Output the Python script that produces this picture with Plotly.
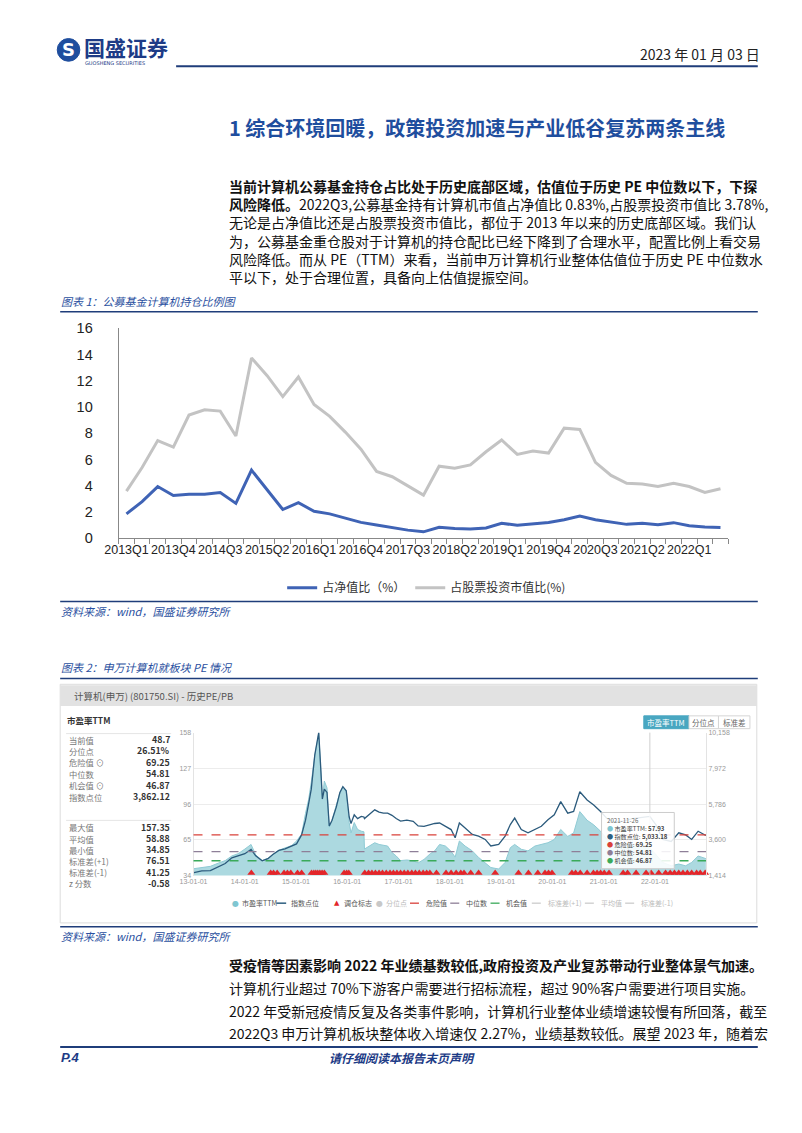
import plotly.graph_objects as go

# ---------------- data: chart 1 ----------------
quarters = [f"{y}Q{q}" for y in range(2013, 2023) for q in range(1, 5)][:39]
net_value_ratio = [1.87, 2.8, 3.95, 3.27, 3.37, 3.37, 3.5, 2.67, 5.2, 3.7,
                   2.2, 2.72, 2.07, 1.87, 1.55, 1.22, 1.02, 0.83, 0.63, 0.5,
                   0.85, 0.75, 0.72, 0.8, 1.15, 1.0, 1.12, 1.22, 1.42, 1.7,
                   1.42, 1.27, 1.07, 1.15, 1.05, 1.2, 0.97, 0.87, 0.83]
stock_value_ratio = [3.6, 5.4, 7.45, 6.95, 9.4, 9.8, 9.7, 7.8, 13.75, 12.4,
                     10.8, 12.3, 10.2, 9.3, 8.1, 6.8, 5.1, 4.7, 4.0, 3.3,
                     5.5, 5.35, 5.6, 6.6, 7.5, 6.4, 6.65, 6.5, 8.4, 8.3,
                     5.8, 4.8, 4.2, 4.15, 3.95, 4.2, 3.95, 3.5, 3.78]
series1_names = ["占净值比（%）", "占股票投资市值比(%)"]

# ---------------- data: chart 2 ----------------
pe_dates = ["2013-01-04", "2013-03-01", "2013-05-01", "2013-07-01", "2013-08-15", "2013-10-01",
            "2013-11-15", "2014-01-02", "2014-02-15", "2014-03-20", "2014-05-05", "2014-06-15",
            "2014-07-20", "2014-09-01", "2014-10-15", "2014-12-01", "2015-01-05", "2015-02-10",
            "2015-03-10", "2015-04-01", "2015-04-20", "2015-05-15", "2015-06-12", "2015-06-25",
            "2015-07-08", "2015-07-22", "2015-08-10", "2015-08-26", "2015-09-15", "2015-10-15",
            "2015-11-10", "2015-12-01", "2015-12-25", "2016-01-15", "2016-01-28", "2016-02-20",
            "2016-03-15", "2016-04-10", "2016-04-29", "2016-05-03", "2016-06-15", "2016-07-15",
            "2016-08-15", "2016-09-15", "2016-10-15", "2016-11-15", "2016-12-15", "2017-01-15",
            "2017-03-01", "2017-04-15", "2017-05-20", "2017-07-01", "2017-08-15", "2017-09-15",
            "2017-10-20", "2017-12-01", "2018-01-10", "2018-02-08", "2018-03-10", "2018-04-20",
            "2018-06-10", "2018-07-25", "2018-09-10", "2018-10-20", "2018-12-15", "2019-01-30",
            "2019-03-08", "2019-04-08", "2019-05-25", "2019-07-12", "2019-08-30", "2019-10-15",
            "2019-12-01", "2020-01-15", "2020-03-01", "2020-04-20", "2020-06-01", "2020-07-15",
            "2020-09-05", "2020-10-22", "2020-12-10", "2021-01-25", "2021-03-10", "2021-05-20",
            "2021-07-25", "2021-09-15", "2021-11-26", "2022-01-10", "2022-02-25", "2022-04-27",
            "2022-06-20", "2022-08-08", "2022-09-20", "2022-11-05", "2022-12-30"]
pe_ttm = [40, 41, 42, 45, 47, 51, 53, 57, 61, 52, 47, 49, 52.5, 56, 58, 60, 64, 70,
          88, 100, 115, 138, 157.35, 128, 100, 116, 110, 76, 82, 95, 106, 111, 108, 80, 71, 80,
          74, 72.5, 72, 57, 60, 62.5, 61, 60, 59.6, 54, 51, 47,
          47.5, 46.8, 45, 48, 53, 55.4, 61, 59.6, 55, 50, 64, 59.6,
          55.4, 49.7, 45.4, 41, 39.7, 45.4, 58.2, 61, 56.8, 55.4, 59.6, 61,
          62.5, 65.3, 74, 68, 71, 89.5, 82, 78, 72.5, 65.3, 62.5, 59.6,
          61, 59, 57.93, 52, 45.4, 42.5, 44, 42.5, 45.4, 51, 48.7]
index_pts = [1600, 1700, 1720, 1950, 2150, 2500, 2600, 2750, 3020, 2620, 2320, 2450,
             2700, 2950, 3050, 3200, 3350, 3900, 4800, 5800, 6700, 8800, 10158, 8200,
             6100, 6700, 6500, 4450, 4800, 5600, 6500, 6850, 6600, 5000, 4600, 5130,
             4900, 5030, 5000, 4900, 5200, 5434, 5300, 5233, 5233, 5100, 4900, 4750,
             4800, 4730, 4450, 4429, 4530, 4600, 4630, 4429, 4228, 3726, 4630, 4328,
             3927, 3826, 3625, 3223, 3324, 3826, 4532, 4932, 4228, 4027, 4228, 4429,
             4830, 5130, 5937, 5233, 5334, 6540, 6037, 5736, 5334, 4900, 4700, 4750,
             4900, 4950, 5033.18, 4500, 3625, 3500, 4027, 3900, 3625, 4127, 3862.12]
rebalance_dates = ["2014-02-17", "2014-07-05", "2014-07-25", "2014-08-20", "2014-10-08", "2014-11-01",
                   "2014-11-25", "2015-01-12", "2015-02-10", "2015-04-22", "2015-05-08", "2015-05-22",
                   "2015-06-05", "2015-06-20", "2015-07-06", "2015-07-22", "2015-12-10", "2015-12-28",
                   "2016-01-12", "2016-05-05", "2016-06-01", "2016-06-25", "2016-07-20", "2016-08-15",
                   "2016-09-08", "2016-10-05", "2016-11-01", "2016-11-25", "2016-12-20", "2017-01-15",
                   "2017-02-10", "2017-03-08", "2017-04-05", "2017-05-01", "2017-05-28", "2017-06-25",
                   "2017-07-20", "2017-08-12", "2017-09-28", "2017-12-05", "2018-01-10", "2018-02-15",
                   "2018-03-20", "2018-04-12", "2018-05-30", "2018-07-25", "2018-11-20", "2019-05-05",
                   "2019-07-15", "2019-09-20", "2019-11-10", "2019-12-05", "2019-12-30", "2020-05-20",
                   "2020-06-15", "2020-07-18", "2020-09-05", "2020-10-20", "2020-11-15", "2020-12-10",
                   "2021-01-05", "2021-02-08", "2021-05-20", "2021-06-20", "2021-08-20", "2021-10-30",
                   "2021-12-05", "2022-01-28", "2022-03-18", "2022-04-20", "2022-05-20", "2022-06-20",
                   "2022-07-20", "2022-08-20", "2022-09-20", "2022-10-25", "2022-11-20", "2022-12-25"]
danger_value = 69.25
median_value = 54.81
chance_value = 46.87
pe_ticks = [34, 65, 96, 127, 158]
idx_ticks = [1414, 3600, 5786, 7972, 10158]
idx_ticktext = ["1,414", "3,600", "5,786", "7,972", "10,158"]
year_ticks = [f"{y}-01-01" for y in range(2013, 2023)]
stat_labels_a = ["当前值", "分位点", "危险值 ⊙", "中位数", "机会值 ⊙", "指数点位"]
stat_values_a = ["48.7", "26.51%", "69.25", "54.81", "46.87", "3,862.12"]
stat_labels_b = ["最大值", "平均值", "最小值", "标准差(+1)", "标准差(-1)", "z 分数"]
stat_values_b = ["157.35", "58.88", "34.85", "76.51", "41.25", "-0.58"]
tooltip_date = "2021-11-26"
tooltip_rows = [("#7fc6d1", "市盈率TTM", "57.93"), ("#2d5f80", "指数点位", "5,033.18"),
                ("#d9413a", "危险值", "69.25"), ("#8e7f98", "中位数", "54.81"),
                ("#3aaa5a", "机会值", "46.87")]

# ---------------- helpers ----------------
W, H = 802, 1133
def px(x): return x / W
def py(y): return 1 - y / H

CJK = "Noto Sans CJK SC"
NAVY = "#1F3D7A"
BLUE_T = "#2a4fa0"

fig = go.Figure()

# chart 1 traces
fig.add_trace(go.Scatter(x=list(range(39)), y=net_value_ratio, mode="lines", name=series1_names[0],
                         line=dict(color="#3F63B5", width=3), xaxis="x", yaxis="y"))
fig.add_trace(go.Scatter(x=list(range(39)), y=stock_value_ratio, mode="lines", name=series1_names[1],
                         line=dict(color="#C3C3C3", width=3), xaxis="x", yaxis="y"))

# chart 2 traces
fig.add_trace(go.Scatter(x=pe_dates, y=pe_ttm, mode="lines", fill="tozeroy", showlegend=False,
                         line=dict(color="#8fcad4", width=1), fillcolor="#acd9e0",
                         xaxis="x2", yaxis="y2"))
fig.add_trace(go.Scatter(x=pe_dates, y=index_pts, mode="lines", showlegend=False,
                         line=dict(color="#2b5a7c", width=1.3), xaxis="x2", yaxis="y3"))
TRI_Y = 36.2
fig.add_trace(go.Scatter(x=rebalance_dates, y=[TRI_Y] * len(rebalance_dates), mode="markers",
                         showlegend=False, marker=dict(symbol="triangle-up", size=7, color="#e3262a"),
                         cliponaxis=False, xaxis="x2", yaxis="y2"))

shapes = []
annotations = []

def text(x, y, s, size=12, color="#222", xanchor="left", yanchor="middle", family=CJK, **kw):
    annotations.append(dict(x=px(x), y=py(y), xref="paper", yref="paper", text=s, showarrow=False,
                            xanchor=xanchor, yanchor=yanchor, borderpad=0,
                            font=dict(size=size, color=color, family=family), **kw))

def hline(x0, x1, y, color=NAVY, width=1.5, dash=None):
    shapes.append(dict(type="line", xref="paper", yref="paper", x0=px(x0), x1=px(x1), y0=py(y), y1=py(y),
                       line=dict(color=color, width=width, dash=dash)))

def rect(x0, y0, x1, y1, fill, line="rgba(0,0,0,0)", lw=1):
    shapes.append(dict(type="rect", xref="paper", yref="paper", x0=px(x0), x1=px(x1), y0=py(y1), y1=py(y0),
                       fillcolor=fill, line=dict(color=line, width=lw), layer="below"))

# ---------- header ----------
shapes.append(dict(type="circle", xref="paper", yref="paper", x0=px(44), x1=px(67), y0=py(54), y1=py(31),
                   fillcolor="#1F4E9E", line=dict(color="#1F4E9E", width=1)))
text(55.5, 42.5, "<b>S</b>", size=18, color="white", xanchor="center", family="DejaVu Sans")
text(70, 40, "<b>国盛证券</b>", size=21, color="#1d3b86")
text(71, 56, "GUOSHENG SECURITIES", size=5, color="#1d3b86", family="DejaVu Sans")
text(760, 47, "2023 年 01 月 03 日", size=14, color="#222", xanchor="right")
hline(165, 757, 59, width=2)

text(218, 121, "<b>1 综合环境回暖，政策投资加速与产业低谷复苏两条主线</b>", size=20, color="#1F4E9E")

para1 = ["<b>当前计算机公募基金持仓占比处于历史底部区域，估值位于历史 PE 中位数以下，下探</b>",
         "<b>风险降低。</b>2022Q3,公募基金持有计算机市值占净值比 0.83%,占股票投资市值比 3.78%,",
         "无论是占净值比还是占股票投资市值比，都位于 2013 年以来的历史底部区域。我们认",
         "为，公募基金重仓股对于计算机的持仓配比已经下降到了合理水平，配置比例上看交易",
         "风险降低。而从 PE（TTM）来看，当前申万计算机行业整体估值位于历史 PE 中位数水",
         "平以下，处于合理位置，具备向上估值提振空间。"]
text(218, 169, "<br>".join(para1), size=14.0, color="#111", yanchor="top", align="left")

# ---------- chart 1 frame ----------
text(47, 297, "<i>图表 1：公募基金计算机持仓比例图</i>", size=11, color=BLUE_T)
hline(47, 757, 308)
hline(47, 757, 602)
text(47, 612, "<i>资料来源：wind，国盛证券研究所</i>", size=11, color=BLUE_T)

# ---------- chart 2 frame ----------
text(47, 668, "<i>图表 2：申万计算机就板块 PE 情况</i>", size=11, color=BLUE_T)
hline(47, 757, 680)
rect(47, 686, 756, 928, "white", "#dcdcdc")
rect(47, 687, 756, 708, "#e2e2e2")
text(60, 698, "计算机(申万) (801750.SI) - 历史PE/PB", size=9.5, color="#555")
text(53, 722, "<b>市盈率TTM</b>", size=8.5, color="#333")
hline(53, 160, 736, color="#e5e5e5", width=1)
for i, (lab, val) in enumerate(zip(stat_labels_a, stat_values_a)):
    yy = 742 + i * 11.6
    text(55, yy, lab, size=8.3, color="#777")
    text(160, yy, f"<b>{val}</b>", size=8.8, color="#333", xanchor="right")
hline(53, 160, 824, color="#e5e5e5", width=1)
for i, (lab, val) in enumerate(zip(stat_labels_b, stat_values_b)):
    yy = 831 + i * 11.4
    text(55, yy, lab, size=8.3, color="#777")
    text(160, yy, f"<b>{val}</b>", size=8.8, color="#333", xanchor="right")

# buttons
rect(641, 718, 687, 731, "#49a7c1", "#49a7c1")
rect(687, 718, 717, 731, "white", "#d5d5d5")
rect(717, 718, 749, 731, "white", "#d5d5d5")
text(664, 724.5, "市盈率TTM", size=7.5, color="white", xanchor="center")
text(702, 724.5, "分位点", size=7.5, color="#666", xanchor="center")
text(733, 724.5, "标准差", size=7.5, color="#666", xanchor="center")

# reference lines on chart 2
for val, col in [(danger_value, "#d9413a"), (median_value, "#8e7f98"), (chance_value, "#3aaa5a")]:
    shapes.append(dict(type="line", xref="x2 domain", yref="y2", x0=0, x1=1, y0=val, y1=val,
                       line=dict(color=col, width=1.3, dash="dash")))
# crosshair
shapes.append(dict(type="line", xref="x2", yref="y2 domain", x0=tooltip_date, x1=tooltip_date, y0=0, y1=1,
                   line=dict(color="#cfcfcf", width=1)))
# tooltip
shapes.append(dict(type="rect", xref="paper", yref="paper", x0=px(598), x1=px(672), y0=py(873), y1=py(816),
                   fillcolor="rgba(255,255,255,0.88)", line=dict(color="#cccccc", width=1), layer="above"))
tip_lines = [f"<span style='color:#666'>{tooltip_date}</span>"]
for col, lab, val in tooltip_rows:
    tip_lines.append(f"<span style='color:{col}'>●</span> {lab}: <b>{val}</b>")
text(603, 819, "<br>".join(tip_lines), size=6.1, color="#444", yanchor="top", align="left")

# chart 2 legend
leg_y = 908
legend2 = [("dot", "#7fc6d1", "市盈率TTM", "#555", 225),
           ("line", "#2d5f80", "指数点位", "#555", 272),
           ("tri", "#e3262a", "调仓标志", "#555", 329),
           ("dot", "#c8c8c8", "分位点", "#bbb", 372),
           ("dash", "#d9413a", "危险值", "#555", 408),
           ("dash", "#8e7f98", "中位数", "#555", 449),
           ("dash", "#3aaa5a", "机会值", "#555", 490),
           ("dash", "#cccccc", "标准差(+1)", "#bbb", 532),
           ("dash", "#cccccc", "平均值", "#bbb", 586),
           ("dash", "#cccccc", "标准差(-1)", "#bbb", 627)]
for kind, col, lab, tcol, x0 in legend2:
    if kind == "dot":
        text(x0, leg_y, "●", size=8, color=col, xanchor="center", family="DejaVu Sans")
        tx = x0 + 6
    elif kind == "tri":
        text(x0, leg_y, "▲", size=7, color=col, xanchor="center", family="DejaVu Sans")
        tx = x0 + 6
    elif kind == "line":
        hline(x0 - 5, x0 + 5, leg_y, color=col, width=1.5)
        tx = x0 + 9
    else:
        hline(x0 - 5, x0 + 6, leg_y, color=col, width=1.3, dash="dash")
        tx = x0 + 10
    text(tx, leg_y, lab, size=7, color=tcol)

hline(47, 757, 932)
text(47, 941, "<i>资料来源：wind，国盛证券研究所</i>", size=11, color=BLUE_T)

para2 = ["<b>受疫情等因素影响 2022 年业绩基数较低,政府投资及产业复苏带动行业整体景气加速。</b>",
         "计算机行业超过 70%下游客户需要进行招标流程，超过 90%客户需要进行项目实施。",
         "2022 年受新冠疫情反复及各类事件影响，计算机行业整体业绩增速较慢有所回落，截至",
         "2022Q3 申万计算机板块整体收入增速仅 2.27%，业绩基数较低。展望 2023 年，随着宏"]
for i, s in enumerate(para2):
    text(218, 971 + i * 23, s, size=14, color="#111")

# footer
hline(47, 757, 1054, width=2)
text(47, 1065, "<b><i>P.4</i></b>", size=13, color="#1d3b86", family="Liberation Sans")
text(395, 1065, "<b><i>请仔细阅读本报告末页声明</i></b>", size=12, color="#1d3b86", xanchor="center")

fig.update_layout(
    width=W, height=H, margin=dict(l=0, r=0, t=0, b=0),
    paper_bgcolor="white", plot_bgcolor="white",
    shapes=shapes, annotations=annotations,
    showlegend=True,
    legend=dict(orientation="h", x=px(420), y=py(588), xanchor="center", yanchor="middle",
                font=dict(size=12, color="#333", family=CJK), itemwidth=30, bgcolor="rgba(0,0,0,0)"),
    xaxis=dict(domain=[px(106.5), px(727)], anchor="y", range=[-0.5, 38.5],
               tickvals=list(range(0, 39, 3)), ticktext=[quarters[i] for i in range(0, 39, 3)],
               tickangle=0, ticks="", showgrid=False, zeroline=False, showline=True, linecolor="#888",
               linewidth=1, tickfont=dict(size=12.5, color="#222", family="Liberation Sans"),
               minor=dict(tick0=-0.5, dtick=1, ticks="outside", ticklen=5, tickcolor="#888", showgrid=False)),
    yaxis=dict(domain=[py(538), py(325)], anchor="x", range=[0, 16], dtick=2, showgrid=False,
               zeroline=False, showline=True, linecolor="#888", linewidth=1, ticks="",
               ticklabelstandoff=22,
               tickfont=dict(size=14.5, color="#222", family="Liberation Sans")),
    xaxis2=dict(domain=[px(182.7), px(704.3)], anchor="y2", type="date",
                range=["2013-01-01", "2022-12-31"], tickvals=year_ticks, tickformat="%y-%m-%d",
                showgrid=False, zeroline=False, showline=False, ticks="",
                tickfont=dict(size=7, color="#999", family="Liberation Sans")),
    yaxis2=dict(domain=[py(880), py(735)], anchor="x2", range=[34, 158], tickvals=pe_ticks,
                showgrid=True, gridcolor="#ececec", zeroline=False, showline=True, linecolor="#e3e3e3",
                ticks="", tickfont=dict(size=7, color="#999", family="Liberation Sans")),
    yaxis3=dict(overlaying="y2", side="right", anchor="x2", range=[1414, 10158], tickvals=idx_ticks,
                ticktext=idx_ticktext, showgrid=False, zeroline=False, showline=True, linecolor="#e3e3e3",
                ticks="", tickfont=dict(size=7, color="#999", family="Liberation Sans")),
)

fig.write_html("out.html")
